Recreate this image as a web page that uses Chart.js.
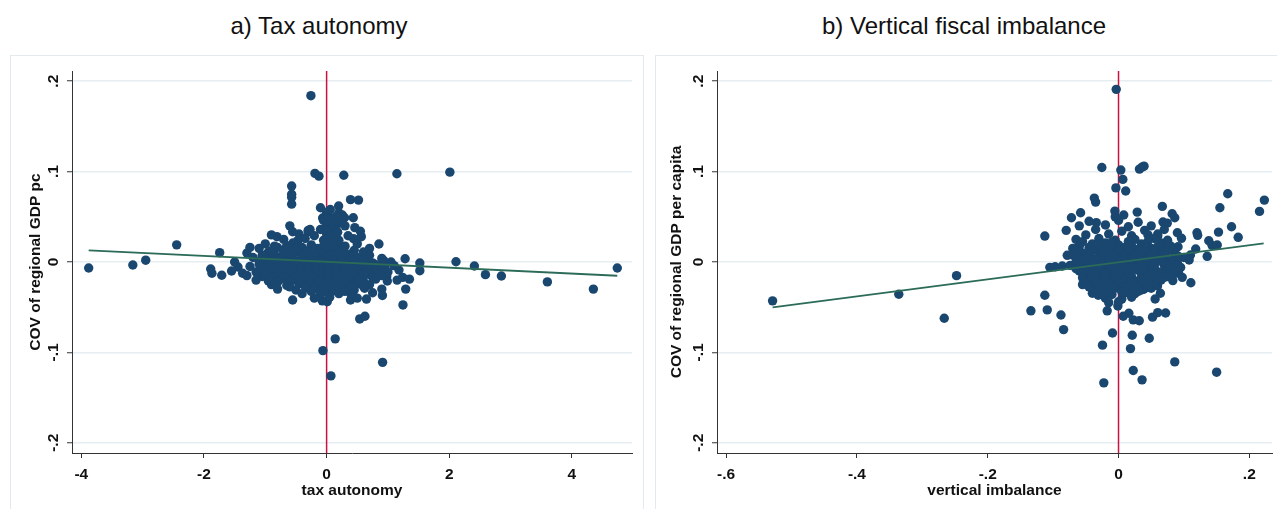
<!DOCTYPE html>
<html><head><meta charset="utf-8">
<script src="https://cdn.jsdelivr.net/npm/chart.js@4.4.1/dist/chart.umd.min.js"></script>
<style>
html,body{margin:0;padding:0;background:#fff;}
#wrap{position:relative;width:1277px;height:509px;overflow:hidden;font-family:"Liberation Sans",Arial,sans-serif;}
.panel{position:absolute;border:1px solid #e3eaee;box-sizing:border-box;}
.ttl{position:absolute;top:13px;width:500px;font-size:24px;line-height:26px;color:#111;text-align:center;white-space:nowrap;}
canvas{position:absolute;top:0;}
</style></head>
<body><div id="wrap">
<div class="panel" style="left:10px;top:55px;width:634px;height:480px"></div>
<div class="panel" style="left:655px;top:55px;width:640px;height:480px"></div>
<div class="ttl" style="left:69px">a) Tax autonomy</div>
<div class="ttl" style="left:714px">b) Vertical fiscal imbalance</div>
<canvas id="cA" width="645" height="509" style="left:0"></canvas>
<canvas id="cB" width="632" height="509" style="left:645px"></canvas>
</div>
<script>
// ---------- data ----------
const yTicks = [-0.2, -0.1, 0, 0.1, 0.2];
const yTickLabels = ["-.2", "-.1", "0", ".1", ".2"];
const taxTicks = [-4, -2, 0, 2, 4];
const taxTickLabels = ["-4", "-2", "0", "2", "4"];
const vfiTicks = [-0.6, -0.4, -0.2, 0, 0.2];
const vfiTickLabels = ["-.6", "-.4", "-.2", "0", ".2"];

// panel a: tax autonomy vs COV of regional GDP pc
const taxPoints = [
[-0.256,0.184],[-0.19,0.098],[-0.125,0.095],[0.28,0.096],[1.146,0.0976],[2.01,0.0994],
[-0.57,0.084],[-0.57,0.075],[-0.57,0.0715],[-0.57,0.064],[-0.10,0.060],[0.196,0.062],[0.39,0.069],[0.52,0.0685],
[0.20,0.0545],[0.256,0.052],[0.293,0.049],[0.435,0.049],[-0.065,0.0486],[0.028,0.050],[-0.554,0.0335],[-0.81,0.028],
[0.566,0.028],[0.44,0.0258],[0.853,0.0199],[-2.445,0.019],[-1.25,0.0162],[0.625,0.0066],[1.28,0.0036],[1.52,-0.0011],
[2.11,0.0003],[1.52,-0.0096],[0.934,0.0014],[0.95,-0.005],[1.18,-0.0088],[1.24,-0.017],[1.35,-0.019],[0.98,-0.016],
[0.99,-0.021],[1.29,-0.030],[1.245,-0.0475],[0.91,-0.037],[-1.89,-0.0077],[-1.87,-0.0125],[-1.71,-0.0147],[-1.744,0.0103],
[-1.445,-0.0055],[-1.37,-0.0125],[-0.554,-0.042],[-0.07,-0.043],[0.01,-0.044],[0.39,-0.042],[0.54,-0.063],[0.625,-0.060],
[0.14,-0.085],[-0.06,-0.098],[0.913,-0.111],[0.07,-0.126],
[-3.88,-0.0066],[-3.16,-0.0033],[-2.95,0.002],[2.41,-0.0044],[2.59,-0.014],[2.85,-0.0155],[3.6,-0.022],[4.35,-0.030],[4.74,-0.0066],
[-0.3,0.0335],[-0.27,0.036],[-0.47,0.0236],[0.0,0.055],[0.06,0.058],[-0.02,0.05],
[-0.05,0.046],[0.02,0.044],[0.1,0.045],[0.24,0.043],
[-0.6,0.04],[0.0,0.041],[0.08,0.039],[0.3,0.04],[0.46,0.038],
[-0.3,0.035],[-0.1,0.036],[0.05,0.034],[0.15,0.036],[0.55,0.034],
[-0.9,0.03],[-0.45,0.031],[-0.2,0.029],[0.0,0.031],[0.12,0.03],[0.35,0.029],
[-0.7,0.025],[-0.35,0.026],[-0.05,0.024],[0.1,0.026],[0.2,0.024],
[-1.0,0.02],[-0.55,0.021],[-0.25,0.019],[0.02,0.021],[0.15,0.019],[0.5,0.02],
[-1.1,0.015],[-0.8,0.016],[-0.6,0.014],[-0.4,0.016],[-0.15,0.015],[0.05,0.014],[0.25,0.016],[0.7,0.015],
[-1.3,0.01],[-0.95,0.011],[-0.7,0.009],[-0.5,0.011],[-0.3,0.01],[-0.1,0.009],[0.0,0.011],[0.18,0.01],[0.4,0.009],[0.6,0.011],
[-1.2,0.005],[-0.9,0.004],[-0.75,0.006],[-0.55,0.005],[-0.35,0.004],[-0.2,0.006],[0.0,0.005],[0.12,0.004],[0.3,0.006],[0.5,0.005],[0.9,0.004],
[-1.5,0.0],[-1.1,0.001],[-0.85,-0.001],[-0.65,0.0],[-0.45,0.001],[-0.3,-0.001],[-0.15,0.0],[0.05,0.001],[0.2,-0.001],[0.35,0.0],[0.55,0.001],[0.75,-0.001],[1.05,0.0],
[-1.25,-0.005],[-1.0,-0.004],[-0.8,-0.006],[-0.6,-0.005],[-0.4,-0.004],[-0.25,-0.006],[-0.1,-0.005],[0.0,-0.004],[0.1,-0.006],[0.25,-0.005],[0.45,-0.004],[0.65,-0.006],[0.85,-0.005],[1.1,-0.004],
[-1.55,-0.01],[-1.15,-0.011],[-0.9,-0.009],[-0.7,-0.01],[-0.55,-0.011],[-0.35,-0.009],[-0.2,-0.01],[-0.05,-0.011],[0.08,-0.009],[0.2,-0.01],[0.38,-0.011],[0.55,-0.009],[0.75,-0.01],[1.0,-0.011],
[-1.3,-0.015],[-1.05,-0.016],[-0.85,-0.014],[-0.65,-0.015],[-0.45,-0.016],[-0.3,-0.014],[-0.12,-0.015],[0.0,-0.016],[0.15,-0.014],[0.3,-0.015],[0.5,-0.016],[0.7,-0.014],[0.9,-0.015],
[-1.15,-0.02],[-0.95,-0.021],[-0.75,-0.019],[-0.5,-0.02],[-0.35,-0.021],[-0.2,-0.019],[-0.05,-0.02],[0.05,-0.021],[0.22,-0.019],[0.4,-0.02],[0.6,-0.021],[0.8,-0.019],[1.15,-0.02],
[-0.9,-0.025],[-0.65,-0.026],[-0.45,-0.024],[-0.25,-0.025],[-0.1,-0.026],[0.0,-0.024],[0.12,-0.025],[0.3,-0.026],[0.5,-0.024],[0.7,-0.025],
[-0.8,-0.03],[-0.5,-0.031],[-0.3,-0.029],[-0.15,-0.03],[0.0,-0.031],[0.08,-0.029],[0.25,-0.03],[0.45,-0.031],[0.62,-0.029],[0.9,-0.03],
[-0.4,-0.035],[-0.1,-0.036],[0.02,-0.034],[0.2,-0.035],[0.4,-0.036],[0.75,-0.034],
[-0.2,-0.04],[0.05,-0.039],[0.5,-0.04],[0.65,-0.041],
[-0.85,0.0175],[-0.65,0.018],[-0.45,0.017],[-0.25,0.0175],[-0.05,0.018],[0.1,0.017],[0.3,0.0175],
[-0.9,0.0125],[-0.7,0.013],[-0.5,0.012],[-0.3,0.0125],[-0.1,0.013],[0.08,0.012],[0.28,0.0125],[0.45,0.013],
[-1.05,0.0075],[-0.85,0.008],[-0.6,0.007],[-0.4,0.0075],[-0.2,0.008],[-0.05,0.007],[0.1,0.0075],[0.25,0.008],[0.45,0.007],[0.7,0.0075],
[-1.0,0.0025],[-0.8,0.003],[-0.6,0.002],[-0.4,0.0025],[-0.25,0.003],[-0.08,0.002],[0.08,0.0025],[0.25,0.003],[0.42,0.002],[0.65,0.0025],
[-1.1,-0.0025],[-0.9,-0.002],[-0.7,-0.003],[-0.5,-0.0025],[-0.35,-0.002],[-0.2,-0.003],[-0.05,-0.0025],[0.05,-0.002],[0.18,-0.003],[0.35,-0.0025],[0.55,-0.002],[0.8,-0.003],
[-1.05,-0.0075],[-0.85,-0.007],[-0.65,-0.008],[-0.45,-0.0075],[-0.3,-0.007],[-0.15,-0.008],[0.02,-0.0075],[0.15,-0.007],[0.3,-0.008],[0.48,-0.0075],[0.65,-0.007],[0.9,-0.008],
[-1.0,-0.0125],[-0.8,-0.012],[-0.6,-0.013],[-0.45,-0.0125],[-0.28,-0.012],[-0.12,-0.013],[0.02,-0.0125],[0.14,-0.012],[0.3,-0.013],[0.45,-0.0125],[0.65,-0.012],[0.85,-0.013],
[-0.9,-0.0175],[-0.7,-0.017],[-0.55,-0.018],[-0.4,-0.0175],[-0.25,-0.017],[-0.1,-0.018],[0.03,-0.0175],[0.18,-0.017],[0.35,-0.018],[0.55,-0.0175],[0.75,-0.017],
[-0.8,-0.0225],[-0.6,-0.022],[-0.4,-0.023],[-0.28,-0.0225],[-0.12,-0.022],[0.02,-0.023],[0.15,-0.0225],[0.35,-0.022],[0.55,-0.023],
[-0.6,-0.0275],[-0.35,-0.027],[-0.2,-0.028],[-0.05,-0.0275],[0.1,-0.027],[0.2,-0.028],[0.4,-0.0275],[0.6,-0.027],
[-0.25,-0.0325],[-0.05,-0.033],[0.1,-0.032],[0.3,-0.0325],
[0.0,0.035],[0.03,0.027],[0.07,0.022],[-0.03,0.018],[0.12,0.04],[0.18,0.033],[0.05,0.048],[0.15,0.05]
];
const taxFitX = [-3.88, 4.74];
const taxFitY = [0.0129, -0.0152];

// panel b: vertical imbalance vs COV of regional GDP per capita
const vfiPoints = [
[-0.0035,0.191],[-0.0255,0.1046],[0.0035,0.1017],[0.032,0.1028],[0.036,0.105],[0.039,0.106],[0.0066,0.0914],[-0.004,0.082],
[0.011,0.0785],[-0.037,0.0707],[-0.035,0.0663],[-0.058,0.0545],[-0.072,0.049],[-0.034,0.0435],[-0.0056,0.0563],[0.0286,0.0552],
[0.067,0.0615],[0.082,0.0534],[0.086,0.049],[0.068,0.0442],[0.0745,0.043],[0.167,0.0755],[0.223,0.0685],[0.2156,0.056],
[0.155,0.060],[0.1728,0.039],[0.183,0.0273],[0.1529,0.0331],[0.138,0.0235],[0.143,0.0184],[0.151,0.0188],[0.1356,0.0063],
[0.12,0.0324],[0.121,0.0295],[0.118,0.0144],[0.110,0.0077],[0.108,0.0022],[0.090,0.0324],[0.0963,0.0262],[0.091,0.0169],
[0.060,0.0287],[0.1106,-0.0229],[0.092,-0.0125],[0.0974,-0.017],[0.083,-0.0206],[0.0596,-0.0265],[0.064,-0.0346],[0.056,-0.0409],
[0.0387,-0.0302],[0.072,-0.0564],[0.060,-0.056],[0.052,-0.061],[0.0158,-0.0567],[0.0072,-0.060],[0.0225,-0.064],[0.0317,-0.065],
[-0.001,-0.0486],[-0.0173,-0.054],[-0.0092,-0.0785],[0.021,-0.081],[0.047,-0.0843],[0.0183,-0.0958],[-0.0245,-0.092],[0.086,-0.1105],
[0.15,-0.1219],[0.0225,-0.120],[0.036,-0.1304],[-0.0225,-0.1337],[-0.040,-0.0346],[-0.031,-0.0368],[-0.1127,0.0287],[-0.0784,0.0074],
[-0.1127,-0.0368],[-0.134,-0.054],[-0.109,-0.053],[-0.088,-0.0586],[-0.084,-0.0748],[-0.2477,-0.0151],[-0.336,-0.0357],[-0.2665,-0.0622],
[-0.105,-0.0059],[-0.097,-0.0052],[-0.086,-0.0044],[-0.074,-0.0037],[-0.529,-0.043],[-0.02,-0.036],[-0.012,-0.035],
[-0.005,0.05],[0.008,0.052],
[-0.045,0.045],[0.0,0.046],[0.03,0.044],
[-0.06,0.04],[-0.02,0.041],[0.015,0.039],[0.05,0.04],
[-0.08,0.035],[-0.035,0.036],[0.005,0.034],[0.04,0.035],[0.07,0.036],
[-0.05,0.03],[-0.015,0.031],[0.02,0.029],[0.045,0.03],[0.06,0.031],
[-0.065,0.025],[-0.03,0.026],[-0.005,0.024],[0.025,0.025],[0.055,0.026],[0.075,0.024],
[-0.04,0.02],[-0.02,0.021],[0.0,0.019],[0.035,0.02],[0.065,0.021],
[-0.07,0.015],[-0.045,0.016],[-0.025,0.014],[-0.01,0.015],[0.01,0.016],[0.03,0.014],[0.05,0.015],[0.07,0.016],
[-0.055,0.01],[-0.03,0.011],[-0.015,0.009],[0.005,0.01],[0.02,0.011],[0.04,0.009],[0.06,0.01],[0.085,0.011],
[-0.06,0.005],[-0.04,0.004],[-0.02,0.006],[0.0,0.005],[0.015,0.004],[0.035,0.006],[0.055,0.005],[0.075,0.004],[0.1,0.005],
[-0.065,0.0],[-0.045,0.001],[-0.03,-0.001],[-0.01,0.0],[0.005,0.001],[0.025,-0.001],[0.045,0.0],[0.065,0.001],[0.09,-0.001],
[-0.055,-0.005],[-0.035,-0.004],[-0.02,-0.006],[0.0,-0.005],[0.015,-0.004],[0.03,-0.006],[0.05,-0.005],[0.07,-0.004],[0.095,-0.006],
[-0.06,-0.01],[-0.04,-0.011],[-0.025,-0.009],[-0.005,-0.01],[0.01,-0.011],[0.03,-0.009],[0.045,-0.01],[0.06,-0.011],[0.08,-0.009],
[-0.05,-0.015],[-0.03,-0.016],[-0.015,-0.014],[0.005,-0.015],[0.02,-0.016],[0.04,-0.014],[0.055,-0.015],[0.075,-0.016],
[-0.045,-0.02],[-0.025,-0.021],[-0.01,-0.019],[0.01,-0.02],[0.03,-0.021],[0.05,-0.019],[0.065,-0.02],
[-0.055,-0.025],[-0.035,-0.026],[-0.015,-0.024],[0.0,-0.025],[0.02,-0.026],[0.04,-0.024],
[-0.04,-0.03],[-0.02,-0.031],[-0.005,-0.029],[0.015,-0.03],[0.035,-0.031],[0.05,-0.029],
[-0.025,-0.035],[-0.01,-0.036],[0.01,-0.034],[0.025,-0.035],
[-0.02,-0.04],[0.005,-0.041],[0.02,-0.039],
[-0.015,-0.045],[0.0,-0.044],
[-0.055,0.0225],[-0.03,0.023],[-0.01,0.022],[0.015,0.0225],[0.045,0.023],[0.075,0.022],
[-0.06,0.0175],[-0.035,0.018],[-0.015,0.017],[0.02,0.0175],[0.04,0.018],[0.06,0.017],[0.08,0.0175],
[-0.065,0.0125],[-0.04,0.013],[-0.02,0.012],[0.0,0.0125],[0.015,0.013],[0.035,0.012],[0.055,0.0125],[0.075,0.013],
[-0.07,0.0075],[-0.045,0.008],[-0.025,0.007],[-0.005,0.0075],[0.01,0.008],[0.03,0.007],[0.05,0.0075],[0.07,0.008],[0.09,0.007],
[-0.055,0.0025],[-0.035,0.003],[-0.015,0.002],[0.01,0.0025],[0.02,0.003],[0.04,0.002],[0.06,0.0025],[0.08,0.003],
[-0.06,-0.0025],[-0.045,-0.002],[-0.025,-0.003],[-0.005,-0.0025],[0.01,-0.002],[0.035,-0.003],[0.055,-0.0025],[0.08,-0.002],
[-0.065,-0.0075],[-0.05,-0.007],[-0.03,-0.008],[-0.01,-0.0075],[0.005,-0.007],[0.02,-0.008],[0.04,-0.0075],[0.055,-0.007],[0.075,-0.008],[0.09,-0.0075],
[-0.055,-0.0125],[-0.035,-0.012],[-0.02,-0.013],[0.0,-0.0125],[0.015,-0.012],[0.035,-0.013],[0.05,-0.0125],[0.065,-0.012],[0.085,-0.013],
[-0.055,-0.0175],[-0.04,-0.017],[-0.02,-0.018],[-0.005,-0.0175],[0.015,-0.017],[0.035,-0.018],[0.06,-0.0175],[0.07,-0.017],
[-0.05,-0.0225],[-0.035,-0.022],[-0.02,-0.023],[0.0,-0.0225],[0.02,-0.022],[0.04,-0.023],[0.055,-0.0225],
[-0.045,-0.0275],[-0.025,-0.027],[-0.01,-0.028],[0.01,-0.0275],[0.03,-0.027],[0.045,-0.028],
[-0.03,-0.0325],[-0.015,-0.032],[0.005,-0.033],[0.03,-0.0325]
];
const vfiFitX = [-0.529, 0.222];
const vfiFitY = [-0.0502, 0.0206];

const refX = 0;          // vertical reference line at x = 0
const yRange = [-0.2113, 0.2113];
const taxRange = [-4.152, 4.98];
const vfiRange = [-0.614, 0.2347];

// ---------- styling ----------
const DOT = '#1a476f';
const FIT = '#2b6b58';
const RED = '#cc1040';
const AXIS = '#333333';
const GRID = '#e6eef1';
const FONT = '"Liberation Sans", Arial, sans-serif';

const yTickPlugin = {
  id: 'yTickRot',
  afterDraw(chart, args, opts) {
    const s = chart.scales.y, ctx = chart.ctx;
    ctx.save();
    ctx.fillStyle = '#111';
    ctx.font = 'bold 15.5px ' + FONT;
    ctx.textAlign = 'center';
    ctx.textBaseline = 'middle';
    yTicks.forEach((v, i) => {
      const py = s.getPixelForValue(v);
      ctx.save();
      ctx.translate(opts.x, py);
      ctx.rotate(-Math.PI / 2);
      ctx.fillText(yTickLabels[i], 0, 0);
      ctx.restore();
    });
    ctx.restore();
  }
};

function makeChart(id, c) {
  return new Chart(document.getElementById(id), {
    type: 'scatter',
    data: { datasets: [
      { type: 'line', data: c.fitX.map((x, i) => ({x, y: c.fitY[i]})), borderColor: FIT, borderWidth: 1.8, pointRadius: 0, fill: false, order: 0 },
      { data: c.points.map(p => ({x: p[0], y: p[1]})), backgroundColor: DOT, borderColor: DOT, borderWidth: 0, pointRadius: 4.7, order: 1 },
      { type: 'line', data: [{x: refX, y: yRange[0]}, {x: refX, y: yRange[1]}], borderColor: RED, borderWidth: 1.5, pointRadius: 0, fill: false, order: 2 }
    ]},
    options: {
      responsive: false, animation: false, events: [],
      layout: { padding: { left: 0, right: c.padRight, top: 71, bottom: 0 } },
      plugins: { legend: { display: false }, tooltip: { enabled: false }, yTickRot: { x: c.yLabelX } },
      scales: {
        x: {
          type: 'linear', min: c.xRange[0], max: c.xRange[1],
          afterBuildTicks: s => { s.ticks = c.xTicks.map(v => ({ value: v })); },
          afterFit: s => { s.height = 56; },
          ticks: { font: { family: FONT, size: 15.5, weight: 'bold' }, color: '#111', padding: 7,
                   maxRotation: 0, callback: (v) => { const i = c.xTicks.findIndex(t => Math.abs(t - v) < 1e-9); return i >= 0 ? c.xTickLabels[i] : ''; } },
          grid: { drawOnChartArea: false, drawTicks: true, tickLength: 5, tickColor: AXIS, tickWidth: 1 },
          border: { color: AXIS, width: 1 },
          title: { display: true, text: c.xTitle, color: '#111', font: { family: FONT, size: 15.5, weight: 'bold' }, padding: { top: 0, bottom: 9 } }
        },
        y: {
          type: 'linear', min: yRange[0], max: yRange[1],
          afterBuildTicks: s => { s.ticks = yTicks.map(v => ({ value: v })); },
          afterFit: s => { s.width = 72; },
          ticks: { color: 'rgba(0,0,0,0)', font: { family: FONT, size: 14, weight: 'bold' }, callback: () => '' },
          grid: { color: GRID, lineWidth: 1.5, drawTicks: true, tickLength: 5, tickColor: AXIS, tickWidth: 1 },
          border: { color: AXIS, width: 1 },
          title: { display: true, text: c.yTitle, color: '#111', font: { family: FONT, size: 15.5, weight: 'bold' }, padding: { top: c.yTitlePad, bottom: 0 } }
        }
      }
    },
    plugins: [yTickPlugin]
  });
}

makeChart('cA', { points: taxPoints, fitX: taxFitX, fitY: taxFitY, xRange: taxRange, xTicks: taxTicks, xTickLabels: taxTickLabels,
  xTitle: 'tax autonomy', yTitle: 'COV of regional GDP pc', padRight: 13, yLabelX: 54, yTitlePad: 26 });
makeChart('cB', { points: vfiPoints, fitX: vfiFitX, fitY: vfiFitY, xRange: vfiRange, xTicks: vfiTicks, xTickLabels: vfiTickLabels,
  xTitle: 'vertical imbalance', yTitle: 'COV of regional GDP per capita', padRight: 5, yLabelX: 54, yTitlePad: 22 });
</script>
</body></html>
